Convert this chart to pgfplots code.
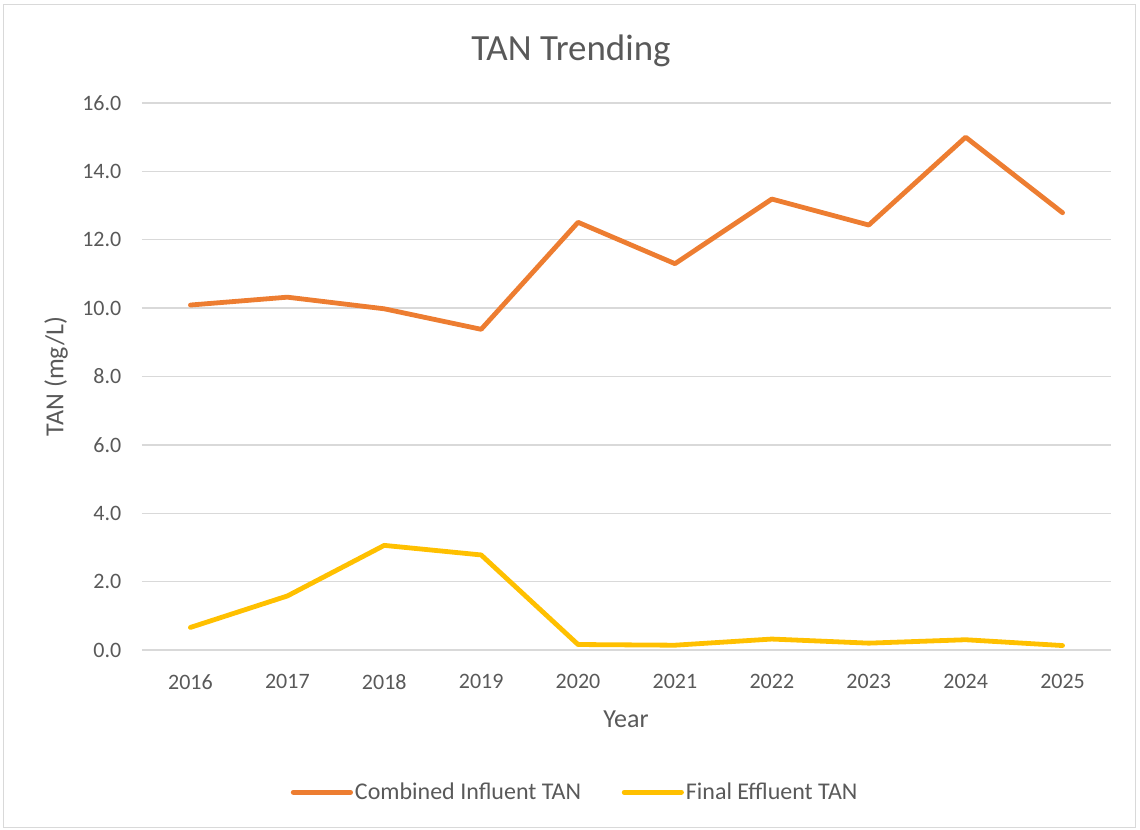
\documentclass[border=0pt]{standalone}
\usepackage{pgfplots}
\pgfplotsset{compat=1.18}
\usepackage{fontspec}
\setmainfont{Carlito}
\definecolor{txt}{HTML}{595959}
\definecolor{gridc}{HTML}{D9D9D9}
\definecolor{orng}{HTML}{ED7D31}
\definecolor{ylw}{HTML}{FFC000}
\begin{document}
\begin{tikzpicture}
\useasboundingbox (0,0) rectangle (855pt,622.5pt);
\draw[gridc, line width=0.9pt] (2.6pt,1.6pt) rectangle (851.5pt,619pt);
\begin{axis}[
  at={(106.5pt,135pt)}, anchor=south west,
  scale only axis, width=726.75pt, height=410.25pt,
  xmin=-0.5, xmax=9.5, ymin=0, ymax=16,
  xtick={0,1,2,3,4,5,6,7,8,9},
  xticklabels={2016,2017,2018,2019,2020,2021,2022,2023,2024,2025},
  ytick={0,2,4,6,8,10,12,14,16},
  /pgf/number format/assume math mode=true,
  yticklabel={\pgfmathprintnumber[fixed,fixed zerofill,precision=1]{\tick}},
  axis line style={draw=none},
  major tick length=0pt,
  ymajorgrids, grid style={gridc, line width=1.1pt},
  tick label style={font=\fontsize{16.5}{19}\selectfont, text=txt},
  xticklabel style={yshift=-15pt},
  yticklabel style={xshift=-12pt},
  title={TAN Trending},
  title style={at={(axis description cs:0.4427,1.063)}, anchor=base, font=\fontsize{27.7}{33}\selectfont, text=txt},
  xlabel={Year},
  xlabel style={at={(axis description cs:0.4995,-0.126)}, anchor=center, font=\fontsize{19.5}{23}\selectfont, text=txt},
  ylabel={TAN (mg/L)},
  ylabel style={at={(axis description cs:-0.0887,0.5)}, anchor=center, font=\fontsize{19.5}{23}\selectfont, text=txt},
  legend columns=2,
  legend style={at={(0.447,-0.26)}, anchor=center, draw=none, fill=none,
    font=\fontsize{18}{21}\selectfont, text=txt,
    nodes={inner sep=1.5pt},
    /tikz/every even column/.append style={column sep=29pt}},
  legend image code/.code={\draw[#1, line cap=round] (0pt,0pt) -- (43pt,0pt);},
]
\addplot[orng, line width=3.6pt, line join=round, line cap=round] coordinates {
 (0,10.09) (1,10.32) (2,9.98) (3,9.38) (4,12.51) (5,11.30) (6,13.19) (7,12.43) (8,15.00) (9,12.79)};
\addlegendentry{Combined Influent TAN}
\addplot[ylw, line width=3.6pt, line join=round, line cap=round] coordinates {
 (0,0.66) (1,1.58) (2,3.06) (3,2.78) (4,0.16) (5,0.14) (6,0.32) (7,0.20) (8,0.30) (9,0.13)};
\addlegendentry{Final Effluent TAN}
\end{axis}
\end{tikzpicture}
\end{document}
